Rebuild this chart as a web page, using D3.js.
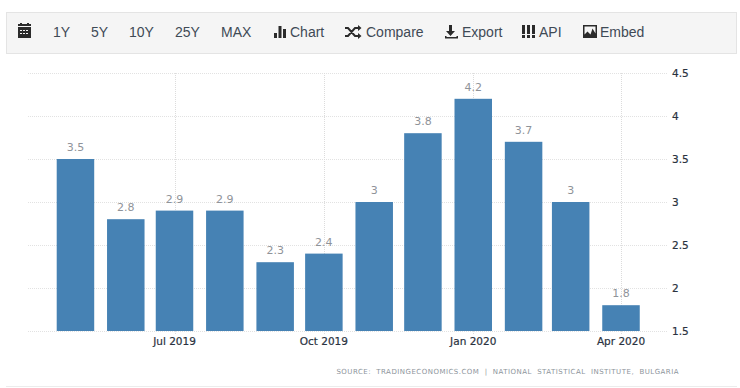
<!DOCTYPE html>
<html>
<head>
<meta charset="utf-8">
<script src="https://cdn.jsdelivr.net/npm/d3@7"></script>
<style>
html, body { margin: 0; padding: 0; background: #fff; }
#chart svg { display: block; }
.tool { font-family: "Liberation Sans", Arial, sans-serif; font-size: 14px; fill: #3f4a55; }
.axis-label { font-family: "DejaVu Sans", sans-serif; font-size: 10.5px; fill: #2a3240; stroke: #2a3240; stroke-width: 0.2px; }
.bar-label { font-family: "DejaVu Sans", sans-serif; font-size: 11px; fill: #8f9399; }
.source { font-family: "DejaVu Sans", sans-serif; font-size: 7px; fill: #8d949b; letter-spacing: 0.48px; word-spacing: 2.6px; }
</style>
</head>
<body>
<div id="chart"></div>
<script>
const months = ["2019-05-01", "2019-06-01", "2019-07-01", "2019-08-01", "2019-09-01", "2019-10-01",
    "2019-11-01", "2019-12-01", "2020-01-01", "2020-02-01", "2020-03-01", "2020-04-01"];
const values = [3.5, 2.8, 2.9, 2.9, 2.3, 2.4, 3, 3.8, 4.2, 3.7, 3, 1.8];
const yTicks = [1.5, 2, 2.5, 3, 3.5, 4, 4.5];
const xTicks = ["2019-07-01", "2019-10-01", "2020-01-01", "2020-04-01"];
const rangeLabels = ["1Y", "5Y", "10Y", "25Y", "MAX"];
const rangeX = [53, 91, 129, 175, 221];
const toolLabels = ["Chart", "Compare", "Export", "API", "Embed"];
const toolX = [290, 366, 462, 539, 600];
const sourceText = "SOURCE: TRADINGECONOMICS.COM | NATIONAL STATISTICAL INSTITUTE, BULGARIA";

const width = 740, height = 388;
const parseDate = d3.utcParse("%Y-%m-%d");
const barColor = "#4682b4";

const svg = d3.select("#chart")
    .append("svg")
    .attr("width", width)
    .attr("height", height);

// toolbar
svg.append("rect")
    .attr("x", 6.5).attr("y", 12.5)
    .attr("width", 730).attr("height", 41)
    .attr("fill", "#f5f5f5")
    .attr("stroke", "#e4e4e4");

svg.selectAll("text.range")
    .data(rangeLabels)
    .enter()
    .append("text")
    .attr("class", "tool range")
    .attr("x", (d, i) => rangeX[i])
    .attr("y", 37)
    .text(d => d);

svg.selectAll("text.item")
    .data(toolLabels)
    .enter()
    .append("text")
    .attr("class", "tool item")
    .attr("x", (d, i) => toolX[i])
    .attr("y", 37)
    .text(d => d);

// toolbar icons, plain shapes
const icons = svg.append("g").attr("fill", "#2b2b2b");
icons.append("path").attr("d", "M18 27h13v11h-13z M18 26h13v-2h-2v-1h-2v1h-5v-1h-2v1h-2z");
icons.append("path").attr("fill", "#f5f5f5")
    .attr("d", "M20 30h2v1h-2z M23 30h2v1h-2z M26 30h2v1h-2z M20 33h2v1h-2z M23 33h2v1h-2z M26 33h2v1h-2z");
icons.append("path").attr("d", "M274 33h3v5h-3z M278.500 26h3v12h-3z M283 29h3v9h-3z");
icons.append("path").attr("fill", "none").attr("stroke", "#2b2b2b").attr("stroke-width", 2)
    .attr("d", "M345 28h3l7 8h3 M345 36h3l7-8h3");
icons.append("path").attr("d", "M358 25l3.500 3-3.500 3z M358 33l3.500 3-3.500 3z");
icons.append("path").attr("d", "M449 25h3v6h3l-4.500 5-4.500-5h3z M445 36h1.500v1h10v-1h1.500v2.500h-13z");
icons.append("path").attr("d", "M522 25h3v9h-3z M527 25h3v9h-3z M532 25h3v9h-3z M522 35h3v3h-3z M527 35h3v3h-3z M532 35h3v3h-3z");
icons.append("path").attr("fill-rule", "evenodd")
    .attr("d", "M583 25h14v13h-14z M584.500 26.500v8l3-3 3 3 2-6 3 5v-7z");

// scales, calibrated on the tick positions of the picture
const xScale = d3.scaleUtc()
    .domain([parseDate("2019-07-01"), parseDate("2020-04-01")])
    .range([174.5, 621]);
const yScale = d3.scaleLinear()
    .domain([1.5, 4.5])
    .range([331, 73]);
const barWidth = 37.5;

// grid
svg.selectAll("line.h-grid")
    .data(yTicks)
    .enter()
    .append("line")
    .attr("class", "h-grid")
    .attr("x1", 28).attr("x2", 668)
    .attr("y1", d => Math.round(yScale(d)) + 0.5)
    .attr("y2", d => Math.round(yScale(d)) + 0.5)
    .attr("stroke", "#e2e2e2")
    .attr("stroke-dasharray", "1,1");

svg.selectAll("line.v-grid")
    .data(xTicks)
    .enter()
    .append("line")
    .attr("class", "v-grid")
    .attr("x1", d => Math.round(xScale(parseDate(d))) + 0.5)
    .attr("x2", d => Math.round(xScale(parseDate(d))) + 0.5)
    .attr("y1", 73).attr("y2", 335)
    .attr("stroke", "#dcdcdc")
    .attr("stroke-dasharray", "1,1");

// bars
svg.selectAll("rect.bar")
    .data(values)
    .enter()
    .append("rect")
    .attr("class", "bar")
    .attr("x", (d, i) => xScale(parseDate(months[i])) - barWidth / 2)
    .attr("y", d => yScale(d))
    .attr("width", barWidth)
    .attr("height", d => yScale(1.5) - yScale(d))
    .attr("fill", barColor);

svg.selectAll("text.bar-label")
    .data(values)
    .enter()
    .append("text")
    .attr("class", "bar-label")
    .attr("x", (d, i) => xScale(parseDate(months[i])))
    .attr("y", d => yScale(d) - 8)
    .attr("text-anchor", "middle")
    .text(d => d);

// axes labels
svg.selectAll("text.y-label")
    .data(yTicks)
    .enter()
    .append("text")
    .attr("class", "axis-label y-label")
    .attr("x", 672)
    .attr("y", d => yScale(d) + 3.5)
    .text(d => d);

svg.selectAll("text.x-label")
    .data(xTicks)
    .enter()
    .append("text")
    .attr("class", "axis-label x-label")
    .attr("x", d => xScale(parseDate(d)))
    .attr("y", 345)
    .attr("text-anchor", "middle")
    .text(d => d3.utcFormat("%b %Y")(parseDate(d)));

// source
svg.append("text")
    .attr("class", "source")
    .attr("x", 679)
    .attr("y", 374)
    .attr("text-anchor", "end")
    .text(sourceText);

svg.append("line")
    .attr("x1", 6).attr("x2", 737)
    .attr("y1", 386.5).attr("y2", 386.5)
    .attr("stroke", "#ececec");
</script>
</body>
</html>
